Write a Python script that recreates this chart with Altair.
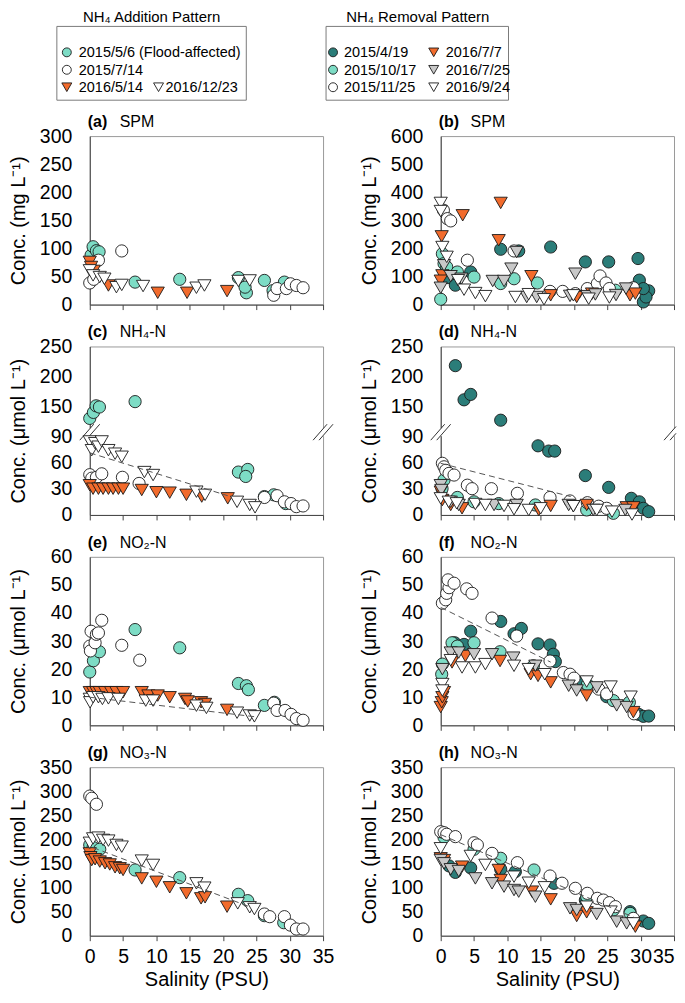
import altair as alt
import pandas as pd

FONT = "Liberation Sans"
DTEAL = "#2b7d79"
LTEAL = "#7ddcc5"
ORANGE = "#f26b2c"
GRAY = "#c8c8c8"
WHITE = "#ffffff"
EDGE = "#1a1a1a"

LEFT_SERIES = ["2015/5/6 (Flood-affected)", "2015/7/14", "2016/5/14", "2016/12/23"]
LEFT_SHAPES = ["circle", "circle", "triangle-down", "triangle-down"]
LEFT_FILLS = [LTEAL, WHITE, ORANGE, WHITE]
LEFT_LEG_ROW = [0, 1, 2, 2]
LEFT_LEG_COL = [0, 0, 0, 1]

RIGHT_SERIES = ["2015/4/19", "2015/10/17", "2015/11/25", "2016/7/7", "2016/7/25", "2016/9/24"]
RIGHT_SHAPES = ["circle", "circle", "circle", "triangle-down", "triangle-down", "triangle-down"]
RIGHT_FILLS = [DTEAL, LTEAL, WHITE, ORANGE, GRAY, WHITE]
RIGHT_LEG_ROW = [0, 1, 2, 0, 1, 2]
RIGHT_LEG_COL = [0, 0, 0, 1, 1, 1]

X_TICKS = [0, 5, 10, 15, 20, 25, 30, 35]

# ---------------- (a) SPM, addition pattern ----------------
A_X = [[0.2, 0.5, 1.0, 1.4, 6.8, 13.5, 22.3, 23.5, 23.3, 26.2, 27.5, 29.2],
       [0.0, 0.6, 1.3, 4.8, 27.6, 28.1, 29.5, 30.1, 31.0, 32.0],
       [0.0, 0.2, 0.6, 2.8, 10.2, 14.6, 20.6],
       [0.0, 0.5, 1.5, 2.2, 4.0, 4.8, 8.0, 16.0, 17.2, 22.3, 24.0]]
A_Y = [[88, 103, 96, 94, 40, 45, 48, 21, 31, 43, 25, 40],
       [38.5, 45, 79, 95.5, 16.6, 28.5, 28.5, 37, 34, 30],
       [76, 67, 60, 34, 21, 21, 24],
       [61, 52, 49, 46, 31, 35, 33, 30, 34, 42, 43]]

# ---------------- (b) SPM, removal pattern ----------------
B_X = [[1.1, 2.2, 4.5, 9.0, 11.7, 16.5, 21.7, 25.2, 29.6, 29.8, 30.4, 31.2, 30.8, 30.4],
       [0.0, 0.25, 0.5, 0.9, 2.5, 5.0, 9.0, 11.0, 14.5, 26.2],
       [0.4, 1.0, 1.5, 4.0, 11.0, 16.4, 18.3, 20.2, 22.0, 23.5, 23.9, 24.8, 25.3, 28.9],
       [0.15, 0.25, 3.3, 9.0, 8.7, 13.6, 16.5, 20.4, 22.7, 28.4, 29.2, 0.0],
       [0.0, 0.5, 1.5, 3.1, 7.8, 9.5, 10.6, 11.4, 12.9, 14.4, 20.2, 19.4, 22.0, 23.2, 26.3, 27.8],
       [0.0, 0.0, 0.25, 0.9, 2.6, 3.5, 5.2, 6.7, 11.2, 13.2, 15.5, 19.9, 22.2, 25.3]]
B_Y = [[96, 69, 116, 197, 191, 205, 152, 152, 164, 87, 9.5, 49, 27, 57],
       [19, 181, 146, 134, 116, 98, 75, 92, 77, 51],
       [336, 306, 298, 158, 191, 47, 47, 39, 57, 75, 102, 77, 57, 60],
       [243, 104, 318, 362, 229, 101, 33, 27, 39, 33, 39, 85],
       [60, 140, 101, 92, 84, 84, 128, 187, 27, 27, 110, 31, 30, 36, 34, 57],
       [362, 333, 205, 170, 87, 53, 41, 30, 27, 37, 19, 33, 21, 25]]

# ---------------- (c) NH4-N, addition pattern ----------------
C_X = [[0.0, 0.55, 0.95, 1.45, 6.8, 22.3, 23.7, 23.4, 26.2, 27.6, 29.4],
       [0.0, 0.3, 1.0, 1.8, 4.9, 7.4, 26.2, 28.1, 29.2, 30.2, 31.0, 32.0],
       [0.0, 0.5, 1.3, 2.0, 2.8, 3.5, 4.3, 5.0, 7.8, 10.0, 12.0, 14.5, 16.8, 20.7],
       [0.0, 0.3, 0.8, 1.3, 1.8, 2.8, 3.8, 4.8, 8.2, 9.5, 16.0, 17.3, 22.1, 24.0, 24.8]]
C_Y = [[130, 140, 151, 149, 158, 49, 52, 44, 21, 23, 13],
       [46, 42, 43, 47, 43, 36, 20, 22, 15, 13, 9.5, 10.3],
       [34, 30, 30, 30, 30, 30, 30, 30, 28.5, 26, 25.5, 23, 21, 19],
       [84, 74, 82, 78, 84, 74, 70, 66.5, 49, 45.6, 26.6, 23, 15, 11.4, 8.7]]
C_FIT_X = [0, 20.7]
C_FIT_Y = [71, 22]

# ---------------- (d) NH4-N, removal pattern ----------------
D_X = [[2.2, 3.5, 4.5, 9.0, 14.6, 16.2, 17.1, 21.7, 25.2, 28.6, 29.8, 30.4, 31.2],
       [0.2, 0.5, 2.5, 5.0, 8.7, 14.2, 21.9, 25.9],
       [0.25, 0.5, 0.75, 1.25, 2.0, 4.0, 4.7, 7.6, 11.5, 16.4, 19.4, 22.0, 23.7, 24.9],
       [0.0, 0.25, 1.5, 3.2, 14.7, 16.5, 21.9, 27.9, 28.9],
       [0.0, 0.1, 1.5, 2.7, 8.0, 11.4, 19.2, 19.9, 22.9, 27.7],
       [0.0, 1.2, 2.4, 5.2, 6.7, 9.5, 11.0, 13.2, 15.0, 19.9, 23.4, 25.7, 28.7]]
D_Y = [[218, 161, 170, 127, 79, 73, 73, 45, 31.5, 19, 15, 7.6, 3.8],
       [30, 40, 20, 15, 13, 11.4, 5.7, 1.9],
       [59, 55, 51, 47.5, 45.6, 34, 30, 30, 24.7, 20, 16, 14, 10, 7.6],
       [26.6, 17, 11.4, 7.6, 5.7, 10.3, 11.4, 8.7, 8.7],
       [34, 28.5, 15, 11.4, 11.4, 11.4, 11.4, 10, 5.7, 5.7],
       [19, 15, 13.3, 12.5, 11.4, 10.3, 6.5, 5.7, 7.6, 10, 5.7, 3.8, 0.5]]
D_FIT_X = [0, 19.5]
D_FIT_Y = [59, 21]

# ---------------- (e) NO2-N, addition pattern ----------------
E_X = [[0.0, 0.55, 1.45, 6.8, 13.5, 22.3, 23.5, 23.8, 26.2, 27.7],
       [0.0, 0.1, 0.2, 0.8, 1.0, 1.3, 1.8, 4.8, 7.5, 27.6, 28.1, 29.3, 30.2, 31.0, 32.0],
       [0.0, 0.5, 1.0, 1.5, 2.3, 3.2, 4.0, 5.0, 7.8, 8.8, 10.2, 12.0, 14.3, 14.7, 16.7, 17.3, 20.6],
       [0.0, 0.05, 0.5, 1.3, 1.9, 2.8, 4.3, 8.4, 9.5, 16.0, 17.5, 22.1, 24.0, 24.7]]
E_Y = [[19, 23, 26.2, 34.1, 27.6, 14.9, 14.1, 12.7, 7.1, 8.2],
       [28.2, 26.5, 33.5, 29.4, 32.4, 32.9, 37.4, 28.5, 23.2, 7.9, 5.3, 5.3, 3.9, 2.4, 1.8],
       [11.8, 11.8, 11.8, 11.8, 11.8, 11.8, 11.8, 11.8, 11.8, 10.6, 10.6, 10, 9.4, 8.5, 8.2, 7.6, 5.5],
       [9.4, 8.2, 10, 10, 9.4, 9.6, 9.4, 8.8, 8.8, 7, 6.2, 4.5, 3.5, 3.2]]
E_FIT_X = [0, 25]
E_FIT_Y = [10, 3]

# ---------------- (f) NO2-N, removal pattern ----------------
F_X = [[2.1, 3.5, 4.5, 9.0, 11.0, 12.1, 14.6, 16.4, 16.9, 17.2, 21.4, 24.9, 29.7, 30.4, 31.2],
       [0.15, 0.25, 1.7, 2.5, 5.0, 8.9, 13.9, 22.0, 25.9, 28.3],
       [0.25, 0.75, 0.9, 1.25, 1.1, 2.0, 3.9, 4.7, 7.7, 11.4, 16.4, 18.4, 19.4, 20.0, 23.7, 24.9, 29.0],
       [0.0, 0.15, 0.25, 0.5, 1.7, 3.7, 8.9, 13.5, 14.6, 16.5, 21.9, 28.9],
       [0.25, 1.5, 2.7, 5.0, 7.7, 10.9, 14.2, 19.2, 20.4, 23.4, 26.4, 27.9],
       [0.25, 0.25, 1.5, 3.2, 5.2, 6.7, 11.0, 13.2, 15.6, 21.9, 25.5, 28.5]]
F_Y = [[29.4, 28.8, 33.5, 37, 32.6, 34.5, 29, 28.6, 25.3, 22.7, 15.3, 10.2, 3.9, 3.2, 3.3],
       [18.2, 21.8, 29.4, 28.2, 29.4, 26.2, 21.2, 14.5, 8.8, 8.2],
       [43.5, 44.7, 47, 49, 51.8, 50.6, 48.6, 47, 38.2, 31.8, 22.9, 18.8, 18.2, 16.8, 12.9, 11.2, 4.1],
       [6.5, 8.2, 10, 11.8, 22.4, 24.7, 22.9, 18.2, 17.6, 15.3, 10.6, 4.7],
       [20, 25.9, 25.9, 25.3, 25.3, 24.1, 21.2, 14.1, 12.4, 13.5, 7.1, 6.5],
       [14.7, 12.4, 23.2, 20.6, 20.6, 21.8, 21.2, 20, 18.2, 15.6, 13.8, 10.2]]
F_FIT_X = [0, 16.5]
F_FIT_Y = [42, 22.5]

# ---------------- (g) NO3-N, addition pattern ----------------
G_X = [[0.0, 0.5, 1.5, 6.8, 13.5, 22.3, 23.7, 26.2, 29.1],
       [0.0, 0.3, 1.0, 26.2, 27.0, 29.2, 30.1, 31.0, 32.0],
       [0.0, 0.1, 0.3, 0.8, 1.5, 2.3, 3.0, 3.8, 4.5, 5.0, 7.8, 10.0, 12.0, 14.5, 16.7, 17.3, 20.6],
       [0.0, 0.5, 1.3, 2.0, 2.8, 4.0, 4.8, 7.8, 9.5, 16.0, 17.2, 22.2, 24.0, 24.7]]
G_Y = [[188.5, 183, 179.5, 136.5, 120.6, 86, 72.8, 41.6, 27],
       [290, 285.5, 273, 45, 39.5, 39.5, 22, 13.9, 13.9],
       [171, 163, 157, 158.7, 154, 150.4, 148, 142, 140, 136.5, 119, 112, 100.5, 88, 77.6, 79.7, 60.3],
       [193, 202, 203.7, 199, 197.5, 188.5, 185, 156, 147, 108.8, 99.8, 67.2, 59, 55.4]]
G_FIT_X = [0.5, 24]
G_FIT_Y = [183, 60]

# ---------------- (h) NO3-N, removal pattern ----------------
H_X = [[1.25, 2.2, 4.5, 9.0, 11.2, 17.0, 21.7, 28.4, 30.4, 31.2],
       [0.5, 5.0, 9.0, 14.0, 21.9, 25.9, 28.4],
       [0.0, 0.5, 0.9, 2.2, 5.0, 5.5, 7.7, 11.5, 16.4, 18.2, 20.2, 22.0, 23.5, 24.4, 25.3, 26.2, 28.9],
       [0.0, 0.5, 3.2, 8.7, 9.0, 13.7, 16.5, 20.4, 21.9, 29.2],
       [0.0, 0.5, 1.5, 2.7, 5.2, 7.7, 9.5, 11.0, 11.7, 14.2, 19.4, 20.4, 23.4, 26.4, 27.9],
       [0.0, 4.5, 6.7, 11.0, 13.2, 15.6, 21.9, 25.5, 28.9]]
H_Y = [[145, 131.5, 140.8, 137.9, 133, 108.8, 74, 49.9, 30.5, 25.6],
       [204.4, 179.5, 160.8, 136.5, 81, 53.4, 46.4],
       [216, 214, 210.7, 205.8, 193, 188.5, 171, 151.7, 124, 109, 98.4, 88, 77.6, 74, 68.6, 60.3, 36],
       [160.8, 157, 143.4, 136.5, 115.7, 91.5, 75.5, 40.9, 48.5, 18.7],
       [157.3, 150.4, 138, 134.4, 119, 108.8, 101.9, 94.9, 91.5, 81, 56.8, 53.4, 45, 29.1, 25.6],
       [181.6, 165.6, 147, 122.6, 110, 100.5, 60.3, 50, 25.6]]
H_FIT_X = [0, 29]
H_FIT_Y = [210, 38]

# ---------------- layout ----------------
W = 234
H = 169
ONE = pd.DataFrame({"k": [0]})
SIZES = {"circle": 150, "triangle-down": 175}
LEG_SIZES = {"circle": 80, "triangle-down": 100}
LABEL_SIZE = 19.5
TITLE_SIZE = 20
BREAK_Y = 86

SPM_TITLE = "Conc. (mg L\u207b\u00b9)"
UM_TITLE = "Conc. (\u03bcmol L\u207b\u00b9)"


def y_scale(kind):
    if kind == "spm_l":
        return alt.Scale(domain=[0, 300], nice=False, zero=False), list(range(0, 301, 50))
    if kind == "spm_r":
        return alt.Scale(domain=[0, 600], nice=False, zero=False), list(range(0, 601, 100))
    if kind == "nh4":
        return (alt.Scale(domain=[0, 90, 102, 250], range=[H, 90, 89, 0], nice=False, zero=False),
                [0, 30, 60, 90, 150, 200, 250])
    if kind == "no2":
        return alt.Scale(domain=[0, 60], nice=False, zero=False), list(range(0, 61, 10))
    return alt.Scale(domain=[0, 350], nice=False, zero=False), list(range(0, 351, 50))


def text_layer(txt, x, y, size, weight="normal", align="left"):
    return alt.Chart(ONE).mark_text(
        text=txt, font=FONT, fontSize=size, fontWeight=weight, align=align,
        baseline="alphabetic", color="#000"
    ).encode(x=alt.value(x), y=alt.value(y))


def legend_layers(title, title_x, series, shapes, fills, rows, cols, box, mk_x, tx_x, row_y):
    out = [
        alt.Chart(ONE).mark_rect(fill="white", stroke="#7a7a7a", strokeWidth=1).encode(
            x=alt.value(box[0]), x2=alt.value(box[1]), y=alt.value(box[2]), y2=alt.value(box[3])),
        text_layer(title, title_x, -114, 15, align="center"),
    ]
    for s, shp, fil, r, c in zip(series, shapes, fills, rows, cols):
        out.append(alt.Chart(ONE).mark_point(
            shape=shp, filled=True, fill=fil, stroke=EDGE, strokeWidth=0.9, opacity=1,
            size=LEG_SIZES[shp]).encode(x=alt.value(mk_x[c]), y=alt.value(row_y[r])))
        out.append(alt.Chart(ONE).mark_text(
            text=s, font=FONT, fontSize=14.5, align="left", baseline="middle", color="#000"
        ).encode(x=alt.value(tx_x[c]), y=alt.value(row_y[r] + 1)))
    return out


def break_layers(px, xmax):
    """white gap on an axis line plus the '//' break symbol, clipped at xmax"""
    out = [alt.Chart(ONE).mark_rule(color="white", strokeWidth=4).encode(
        x=alt.value(px), y=alt.value(BREAK_Y - 4), y2=alt.value(BREAK_Y + 4))]
    for dx in (-3, 3):
        x1, y1 = px + dx - 7, BREAK_Y + 8
        x2, y2 = px + dx + 7, BREAK_Y - 8
        if x2 > xmax:
            t = (xmax - x1) / (x2 - x1)
            x2, y2 = xmax, y1 + (y2 - y1) * t
        out.append(alt.Chart(ONE).mark_rule(color="#333", strokeWidth=1).encode(
            x=alt.value(x1), x2=alt.value(x2), y=alt.value(y1), y2=alt.value(y2)))
    return out


def panel(letter, name, series, shapes, fills, xs, ys, kind, ytitle, fit=None,
          bottom=False, legend=None, broken=None, right=False):
    yscale, yvals = y_scale(kind)
    xaxis_kw = dict(values=X_TICKS, grid=False, tickSize=5, labelFlush=False, labels=bottom,
                    title="Salinity (PSU)" if bottom else None, labelPadding=7, titlePadding=3,
                    labelFontSize=LABEL_SIZE, titleFontSize=TITLE_SIZE)
    if right:
        # the last label of the right column is pulled inside the figure edge
        xaxis_kw["labelAlign"] = {"condition": {"test": "datum.value >= 35", "value": "right"},
                                  "value": "center"}
    xaxis = alt.Axis(**xaxis_kw)
    yaxis = alt.Axis(values=yvals, grid=False, ticks=False, tickSize=0, labelPadding=18,
                     minExtent=56, maxExtent=56, title=ytitle, titlePadding=5,
                     labelFlush=False, labelOverlap=False, labelFontSize=LABEL_SIZE,
                     titleFontSize=TITLE_SIZE)
    xs_ = alt.Scale(domain=[0, 35], nice=False, zero=False)
    X = alt.X("x:Q", scale=xs_, axis=xaxis)
    Y = alt.Y("y:Q", scale=yscale, axis=yaxis)

    layers = []
    if broken is not None:
        layers += break_layers(0, 1000)
        layers += break_layers(W, W + broken)
    for s, shp, fil, xv, yv in zip(series, shapes, fills, xs, ys):
        df = pd.DataFrame({"x": xv, "y": yv, "s": s})
        layers.append(alt.Chart(df).mark_point(
            shape=shp, filled=True, fill=fil, stroke=EDGE, strokeWidth=0.9, opacity=1,
            size=SIZES[shp]).encode(x=X, y=Y))
    if fit is not None:
        fdf = pd.DataFrame({"x": fit[0], "y": fit[1]})
        layers.append(alt.Chart(fdf).mark_line(strokeDash=[6, 4], color="#555",
                                               strokeWidth=1).encode(x=X, y=Y))
    layers.append(text_layer("(" + letter + ")", -2, -9, 16, weight="bold"))
    layers.append(text_layer(name, 30, -9, 16))
    if legend is not None:
        layers.extend(legend)
    return alt.layer(*layers).properties(width=W, height=H)


ROW_Y = (-84, -66.5, -49)
left_legend = legend_layers("NH\u2084 Addition Pattern", 62, LEFT_SERIES, LEFT_SHAPES, LEFT_FILLS,
                            LEFT_LEG_ROW, LEFT_LEG_COL, (-33, 157, -110, -36),
                            (-23, 69), (-11, 76), ROW_Y)
right_legend = legend_layers("NH\u2084 Removal Pattern", -23, RIGHT_SERIES, RIGHT_SHAPES, RIGHT_FILLS,
                             RIGHT_LEG_ROW, RIGHT_LEG_COL, (-115, 68, -110, -36),
                             (-108, -7), (-97, 5), ROW_Y)

pa = panel("a", "SPM", LEFT_SERIES, LEFT_SHAPES, LEFT_FILLS, A_X, A_Y, "spm_l", SPM_TITLE,
           legend=left_legend)
pb = panel("b", "SPM", RIGHT_SERIES, RIGHT_SHAPES, RIGHT_FILLS, B_X, B_Y, "spm_r", SPM_TITLE,
           legend=right_legend, right=True)
pc = panel("c", "NH\u2084-N", LEFT_SERIES, LEFT_SHAPES, LEFT_FILLS, C_X, C_Y, "nh4", UM_TITLE,
           fit=(C_FIT_X, C_FIT_Y), broken=10)
pd_ = panel("d", "NH\u2084-N", RIGHT_SERIES, RIGHT_SHAPES, RIGHT_FILLS, D_X, D_Y, "nh4", UM_TITLE,
            fit=(D_FIT_X, D_FIT_Y), broken=2, right=True)
pe = panel("e", "NO\u2082-N", LEFT_SERIES, LEFT_SHAPES, LEFT_FILLS, E_X, E_Y, "no2", UM_TITLE,
           fit=(E_FIT_X, E_FIT_Y))
pf = panel("f", "NO\u2082-N", RIGHT_SERIES, RIGHT_SHAPES, RIGHT_FILLS, F_X, F_Y, "no2", UM_TITLE,
           fit=(F_FIT_X, F_FIT_Y), right=True)
pg = panel("g", "NO\u2083-N", LEFT_SERIES, LEFT_SHAPES, LEFT_FILLS, G_X, G_Y, "no3", UM_TITLE,
           fit=(G_FIT_X, G_FIT_Y), bottom=True)
ph = panel("h", "NO\u2083-N", RIGHT_SERIES, RIGHT_SHAPES, RIGHT_FILLS, H_X, H_Y, "no3", UM_TITLE,
           fit=(H_FIT_X, H_FIT_Y), bottom=True, right=True)

chart = alt.ConcatChart(
    concat=[pa, pb, pc, pd_, pe, pf, pg, ph],
    columns=2,
    spacing={"row": 42, "column": 118},
    bounds="flush",
).resolve_scale(x="independent", y="independent").properties(
    padding=0
).configure_view(
    stroke="#9a9a9a", strokeWidth=1
).configure_axis(
    labelFont=FONT, titleFont=FONT, labelColor="#000", titleColor="#000",
    titleFontWeight="normal", domainColor="#444", tickColor="#444", domainWidth=1
)

chart.save("out.html", embed_options={"renderer": "svg", "actions": False})
